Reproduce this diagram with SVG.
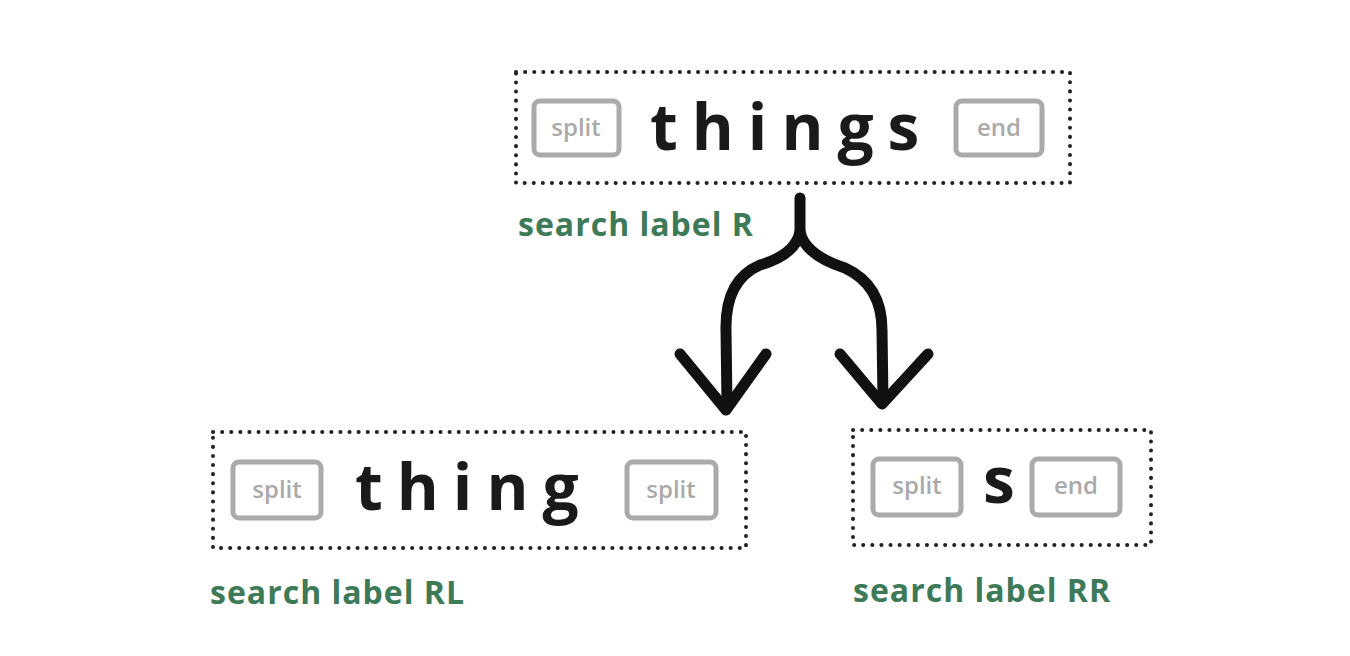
<svg xmlns="http://www.w3.org/2000/svg" width="1350" height="656" viewBox="0 0 1350 656">
<style>
.box{fill:none;stroke:#222;stroke-width:4;stroke-dasharray:0.1 9;stroke-linecap:round}
.chip{fill:#fff;stroke:#aaa;stroke-width:5}
.ct{font-family:"Open Sans",sans-serif;font-size:24px;font-weight:600;fill:#aaa;text-anchor:middle}
.big{font-family:"Open Sans",sans-serif;font-size:64px;font-weight:700;fill:#1a1a1a;letter-spacing:14px}
.lbl{font-family:"Open Sans",sans-serif;font-size:32px;font-weight:700;fill:#3d7a57;letter-spacing:1px}
.arr{fill:none;stroke:#111;stroke-width:11;stroke-linecap:round;stroke-linejoin:round}
</style>
<rect width="1350" height="656" fill="#fff"/>
<g id="top">
<rect class="box" x="516" y="72" width="554" height="111"/>
<rect class="chip" x="534" y="101" width="85" height="54" rx="6"/><text class="ct" x="576" y="136">split</text>
<text class="big" x="650" y="150">things</text>
<rect class="chip" x="956" y="101" width="86" height="54" rx="6"/><text class="ct" x="999" y="136">end</text>
<text class="lbl" x="518" y="236">search label R</text>
</g>
<g id="left">
<rect class="box" x="213" y="432" width="533" height="116"/>
<rect class="chip" x="233" y="462" width="88" height="56" rx="6"/><text class="ct" x="277" y="498">split</text>
<text class="big" x="355" y="510">thing</text>
<rect class="chip" x="627" y="462" width="89" height="56" rx="6"/><text class="ct" x="671" y="498">split</text>
<text class="lbl" x="210" y="604">search label RL</text>
</g>
<g id="right">
<rect class="box" x="853" y="430" width="298" height="115"/>
<rect class="chip" x="873" y="459" width="88" height="56" rx="6"/><text class="ct" x="917" y="494">split</text>
<text class="big" x="983" y="503">s</text>
<rect class="chip" x="1032" y="459" width="88" height="56" rx="6"/><text class="ct" x="1076" y="494">end</text>
<text class="lbl" x="853" y="602">search label RR</text>
</g>
<g id="connectors">
<path class="arr" d="M800 198 L800 232 Q795 255 760 265 Q725 280 726 330 L727 405"/>
<path class="arr" d="M800 232 Q805 255 845 268 Q882 285 882 330 L883 400"/>
<path class="arr" d="M680 354 L726 410 L766 354"/>
<path class="arr" d="M840 354 L882 404 L928 354"/>
</g>
</svg>
